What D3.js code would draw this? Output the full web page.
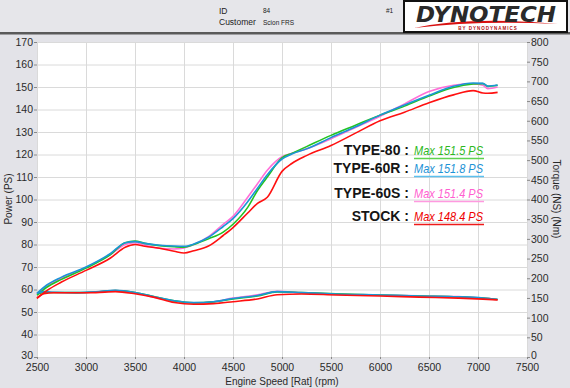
<!DOCTYPE html>
<html><head><meta charset="utf-8">
<script src="https://cdn.jsdelivr.net/npm/d3@7"></script>
<style>
html,body{margin:0;padding:0;background:#e3e3e8;}
svg{display:block;font-family:"Liberation Sans",Arial,sans-serif;}
</style></head>
<body>
<svg id="c" width="570" height="388"></svg>
<script>
// ---- data ----
const rpmPower = [2500,2600,2750,3000,3250,3400,3500,3600,3750,3900,4000,4100,4250,4400,4500,4650,4750,4850,5000,5100,5250,5500,5750,6000,6250,6500,6750,6950,7050,7100,7200];
const powerType80 = [57.5,61,64.5,69.5,75.5,80.8,81.5,80.5,79.5,79,78.8,80,82.5,85.5,89,96.5,104,110,118.5,120.5,123.5,128.5,133,137.5,141.5,146,149.8,151.3,151.5,150.3,150.8];
const powerType60R = [58.3,62,65.5,70,76,80.8,81.3,80.5,79.7,79.3,79.2,80.2,83.2,88,91.5,99,105,111,118,120.2,122.5,127.5,132.3,137.5,142,146.3,150.3,151.8,151.6,150.4,150.9];
const powerType60S = [58,61.5,65,69.8,75.5,80,80.8,79.8,78.3,78,78.5,80,83.5,89,92.5,101,107,113,119,120.5,122.5,127,132,137,142.5,148,150.8,151.4,150.8,149.3,150];
const powerStock = [56,59.5,63.3,68.5,74,78.8,80,79.2,78.3,77,76.2,77.2,79.3,84,87.5,94,98.3,101,112.5,116,119.5,124,129.5,135,138.8,143,146.5,148.4,147.3,147.2,147.6];

const rpmTorque = [2500,2570,2670,2900,3100,3300,3500,3700,3900,4100,4300,4500,4750,4950,5200,5550,6000,6400,6800,7050,7200];
const torqueType80 = [160,164,164,163.5,165,169,164,153,142.5,137.5,140,147.5,155,165.5,163.5,160.5,157.5,155,153,149.5,146];
const torqueType60R = [162,166,164.5,163.5,165.5,169.5,164,153,143,138,140.5,148.5,156,166,163.5,160,157.5,155,153,150,146.5];
const torqueType60S = [161,165,164,163,165,168.5,163,151.5,141.5,137.5,140.5,149.5,158,167,163,159.5,157,155.5,153.5,149.5,145.5];
const torqueStock = [150,161,163,163,163.5,166,160.5,151.5,138.5,134,135.5,140.5,147.5,158,160,157.5,155,152,149.5,147,145];

const seriesNames = ["TYPE-80","TYPE-60R","TYPE-60S","STOCK"];
const maxLabels = ["Max 151.5 PS","Max 151.8 PS","Max 151.4 PS","Max 148.4 PS"];
const xTicks = [2500,3000,3500,4000,4500,5000,5500,6000,6500,7000,7500];
const yPowerTicks = [30,40,50,60,70,80,90,100,110,120,130,140,150,160,170];
const yTorqueTicks = [0,50,100,150,200,250,300,350,400,450,500,550,600,650,700,750,800];

// ---- styles ----
const lineColors = ["#22c322","#1b95d6","#ff6fd8","#ff1010"];
const textColors = ["#2db81e","#1e93d6","#ff5fd0","#ee0000"];
const underColors = ["#5fd24f","#5cc0ee","#ff9ae0","#ee1a1a"];

const svg = d3.select("#c");
const L=37,R=527,T=42,B=357;
const x = d3.scaleLinear().domain([2500,7500]).range([L,R]);
const yP = d3.scaleLinear().domain([30,170]).range([B,T]);
const yT = d3.scaleLinear().domain([0,800]).range([B,T]);

// header
svg.append("rect").attr("x",0).attr("y",0).attr("width",570).attr("height",32).attr("fill","#e6e6ea");
svg.append("rect").attr("x",0).attr("y",32).attr("width",570).attr("height",2.5).attr("fill","#5a5a5a");
const hdr = svg.append("g").attr("fill","#222");
hdr.append("text").attr("x",219).attr("y",14).attr("font-size",8.5).text("ID");
hdr.append("text").attr("x",263).attr("y",13).attr("font-size",6.5).text("84");
hdr.append("text").attr("x",219).attr("y",25).attr("font-size",8.5).text("Customer");
hdr.append("text").attr("x",263).attr("y",25).attr("font-size",6.5).text("Scion FRS");
hdr.append("text").attr("x",386).attr("y",13).attr("font-size",6.5).text("#1");

// logo
const lg = svg.append("g");
lg.append("rect").attr("x",404).attr("y",1).attr("width",163).attr("height",31).attr("fill","#fff").attr("stroke","#111").attr("stroke-width",2);
lg.append("path").attr("d","M414,28 Q470,16 558,24 Q480,20 414,28 Z").attr("fill","#d81010");
lg.append("text").attr("x",486).attr("y",22).attr("text-anchor","middle").attr("font-size",21).attr("font-weight",900)
  .attr("font-style","italic").attr("font-family","'DejaVu Sans',sans-serif").attr("fill","#2a2a2a")
  .attr("textLength",140).attr("lengthAdjust","spacingAndGlyphs").text("DYNOTECH");
lg.append("text").attr("x",488).attr("y",30).attr("text-anchor","middle").attr("font-size",4.5).attr("font-weight",700)
  .attr("fill","#b01010").attr("letter-spacing",1).text("BY DYNODYNAMICS");

// plot area
svg.append("rect").attr("x",L).attr("y",T).attr("width",R-L).attr("height",B-T).attr("fill","#fff");
const grid = svg.append("g").attr("stroke","#dadada").attr("stroke-width",1);
grid.selectAll(".v").data(xTicks).join("line").attr("x1",d=>x(d)+0.5).attr("x2",d=>x(d)+0.5).attr("y1",T).attr("y2",B);
grid.selectAll(".h").data(yPowerTicks).join("line").attr("y1",d=>yP(d)+0.5).attr("y2",d=>yP(d)+0.5).attr("x1",L).attr("x2",R);

// axes
function styleAxis(g){
  g.select(".domain").remove();
  g.selectAll(".tick line").attr("stroke","#888");
  g.selectAll("text").attr("fill","#2a2a2a").attr("font-size",10.5).attr("font-family","'Liberation Sans',Arial,sans-serif");
}
const gl = svg.append("g").attr("transform",`translate(${L},0)`).call(d3.axisLeft(yP).tickValues(yPowerTicks).tickSize(3).tickPadding(1)).call(styleAxis);
const gr = svg.append("g").attr("transform",`translate(${R},0)`).call(d3.axisRight(yT).tickValues(yTorqueTicks).tickSize(3).tickPadding(1)).call(styleAxis);
// nudge the lowest labels up slightly so they clear the x-axis labels
gl.selectAll(".tick").filter(d=>d===30).select("text").attr("dy","0.1em");
gr.selectAll(".tick").filter(d=>d===0).select("text").attr("dy","0.1em");
svg.append("g").attr("transform",`translate(0,${B})`).call(d3.axisBottom(x).tickValues(xTicks).tickFormat(d3.format("d")).tickSize(2).tickPadding(5)).call(styleAxis);

svg.append("text").attr("transform","translate(12,199) rotate(-90)").attr("text-anchor","middle").attr("font-size",10).attr("fill","#2a2a2a").text("Power (PS)");
svg.append("text").attr("transform","translate(553,199) rotate(90)").attr("text-anchor","middle").attr("font-size",10).attr("fill","#2a2a2a").text("Torque (NS) (Nm)");
svg.append("text").attr("x",282).attr("y",385).attr("text-anchor","middle").attr("font-size",10).attr("fill","#2a2a2a").text("Engine Speed [Rat] (rpm)");

// lines
const powerSeries = [powerType80,powerType60R,powerType60S,powerStock];
const torqueSeries = [torqueType80,torqueType60R,torqueType60S,torqueStock];
const order = [2,0,1,3];
const lineP = d3.line().x(d=>x(d[0])).y(d=>yP(d[1])).curve(d3.curveMonotoneX);
const lineT = d3.line().x(d=>x(d[0])).y(d=>yT(d[1])).curve(d3.curveMonotoneX);
const lines = svg.append("g").attr("fill","none").attr("stroke-width",1.6).attr("stroke-linejoin","round");
order.forEach(i=>{
  lines.append("path").attr("d",lineT(rpmTorque.map((r,k)=>[r,torqueSeries[i][k]]))).attr("stroke",lineColors[i]);
  lines.append("path").attr("d",lineP(rpmPower.map((r,k)=>[r,powerSeries[i][k]]))).attr("stroke",lineColors[i]);
});

// legend
const baselines = [155,173,198,221];
const lgd = svg.append("g");
seriesNames.forEach((n,i)=>{
  lgd.append("text").attr("x",409).attr("y",baselines[i]).attr("text-anchor","end").attr("font-size",14).attr("font-weight",700)
    .attr("fill","#151515").text(n+" :");
  lgd.append("text").attr("x",414).attr("y",baselines[i]).attr("font-size",13).attr("font-style","italic")
    .attr("fill",textColors[i]).attr("textLength",69).attr("lengthAdjust","spacingAndGlyphs").text(maxLabels[i]);
  lgd.append("line").attr("x1",414).attr("x2",484).attr("y1",baselines[i]+3.5).attr("y2",baselines[i]+3.5)
    .attr("stroke",underColors[i]).attr("stroke-width",1.5);
});
</script>
</body></html>
